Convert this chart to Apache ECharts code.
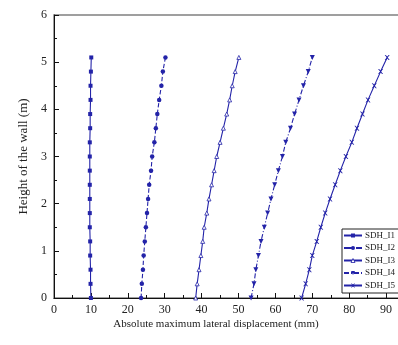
<!DOCTYPE html>
<html>
<head>
<meta charset="utf-8">
<script src="https://cdn.jsdelivr.net/npm/echarts@6/dist/echarts.min.js"></script>
<style>html,body{margin:0;padding:0;background:#fff}#c{width:398px;height:345px}</style>
</head>
<body>
<div id="c"></div>
<script>
var heights = [0, 0.3, 0.6, 0.9, 1.2, 1.5, 1.8, 2.1, 2.4, 2.7, 3.0, 3.3, 3.6, 3.9, 4.2, 4.5, 4.8, 5.1];
var seriesNames = ['SDH_I1', 'SDH_I2', 'SDH_I3', 'SDH_I4', 'SDH_I5'];
var sdhI1 = [10.0, 9.9, 9.9, 9.8, 9.8, 9.7, 9.7, 9.7, 9.7, 9.7, 9.7, 9.7, 9.8, 9.8, 9.9, 9.9, 10.0, 10.1];
var sdhI2 = [23.6, 23.8, 24.1, 24.3, 24.6, 24.9, 25.2, 25.5, 25.8, 26.3, 26.6, 27.2, 27.6, 28.0, 28.5, 29.1, 29.5, 30.2];
var sdhI3 = [38.4, 38.8, 39.3, 39.8, 40.3, 40.7, 41.4, 42.0, 42.7, 43.4, 44.1, 45.0, 45.9, 46.8, 47.6, 48.3, 49.1, 50.1];
var sdhI4 = [53.4, 54.2, 54.7, 55.4, 56.1, 57.0, 57.9, 58.8, 59.8, 60.8, 61.9, 62.8, 64.1, 65.2, 66.4, 67.6, 68.9, 70.0];
var sdhI5 = [67.1, 68.2, 69.2, 70.0, 71.2, 72.3, 73.5, 74.8, 76.2, 77.6, 79.1, 80.7, 82.1, 83.6, 85.1, 86.8, 88.5, 90.3];
var xTicks = [0, 10, 20, 30, 40, 50, 60, 70, 80, 90];
var yTicks = [0, 1, 2, 3, 4, 5, 6];

var values = [sdhI1, sdhI2, sdhI3, sdhI4, sdhI5];
var color = '#2323a8';
var styles = [
  {symbol: 'rect', size: 4, type: 'solid', rotate: 0, fill: color, bw: 0},
  {symbol: 'circle', size: 4.5, type: 'dashed', rotate: 0, fill: color, bw: 0},
  {symbol: 'triangle', size: 4, type: 'solid', rotate: 0, fill: '#fff', bw: 0.8},
  {symbol: 'triangle', size: 5, type: [5, 2, 1, 2], rotate: 180, fill: color, bw: 0},
  {symbol: 'path://M0,0L2,0L5,3L8,0L10,0L6,5L10,10L8,10L5,7L2,10L0,10L4,5Z', size: 5, type: 'solid', rotate: 0, fill: color, bw: 0}
];

var series = values.map(function (vals, i) {
  var st = styles[i];
  return {
    name: seriesNames[i],
    type: 'line',
    data: vals.map(function (v, k) { return [v, heights[k]]; }),
    symbol: st.symbol,
    symbolSize: st.size,
    symbolRotate: st.rotate,
    showSymbol: true,
    itemStyle: {color: st.fill, borderColor: color, borderWidth: st.bw},
    lineStyle: {color: color, width: 1.1, type: st.type},
    emphasis: {disabled: true},
    animation: false
  };
});

var legendData = seriesNames.map(function (n, i) {
  var st = styles[i];
  return {name: n, itemStyle: {color: st.fill, borderColor: color, borderWidth: st.bw}};
});

var chart = echarts.init(document.getElementById('c'), null, {renderer: 'canvas'});
chart.setOption({
  animation: false,
  backgroundColor: '#fff',
  textStyle: {fontFamily: 'Liberation Serif'},
  grid: {left: 54, top: 15, height: 283, width: 369, outerBoundsMode: 'none', containLabel: false, show: true, borderColor: '#808080', borderWidth: 1.5},
  legend: {
    orient: 'vertical',
    left: 342, top: 229,
    data: legendData,
    itemWidth: 18, itemHeight: 5, itemGap: 3.5,
    padding: [2, 4, 3, 1],
    borderColor: '#222', borderWidth: 1,
    textStyle: {fontFamily: 'Liberation Serif', fontSize: 9, color: '#222', padding: [0, 0, 0, -2]},
    selectedMode: false
  },
  xAxis: {
    type: 'value', min: 0, max: 100, interval: 10,
    axisLine: {lineStyle: {color: '#111', width: 1}},
    axisTick: {inside: true, length: 5, lineStyle: {color: '#111'}},
    minorTick: {show: true, splitNumber: 2, length: 3, lineStyle: {color: '#111'}},
    splitLine: {show: false},
    axisLabel: {
      fontFamily: 'Liberation Serif', fontSize: 12, color: '#222', margin: 6,
      formatter: function (v) { return xTicks.indexOf(v) >= 0 ? String(v) : ''; }
    }
  },
  yAxis: {
    type: 'value', min: 0, max: 6, interval: 1,
    name: 'Height of the wall (m)', nameLocation: 'middle', nameGap: 24,
    nameTextStyle: {fontFamily: 'Liberation Serif', fontSize: 13, color: '#222'},
    axisLine: {lineStyle: {color: '#111', width: 1}},
    axisTick: {inside: true, length: 5, lineStyle: {color: '#111'}},
    minorTick: {show: true, splitNumber: 2, length: 3, lineStyle: {color: '#111'}},
    splitLine: {show: false},
    axisLabel: {
      fontFamily: 'Liberation Serif', fontSize: 12, color: '#222', margin: 7,
      formatter: function (v) { return yTicks.indexOf(v) >= 0 ? String(v) : ''; }
    }
  },
  graphic: [{
    type: 'text', x: 216, y: 319,
    style: {text: 'Absolute maximum lateral displacement (mm)', textAlign: 'center', fontFamily: 'Liberation Serif', fontSize: 11, fill: '#222'}
  }],
  series: series
});
</script>
</body>
</html>
